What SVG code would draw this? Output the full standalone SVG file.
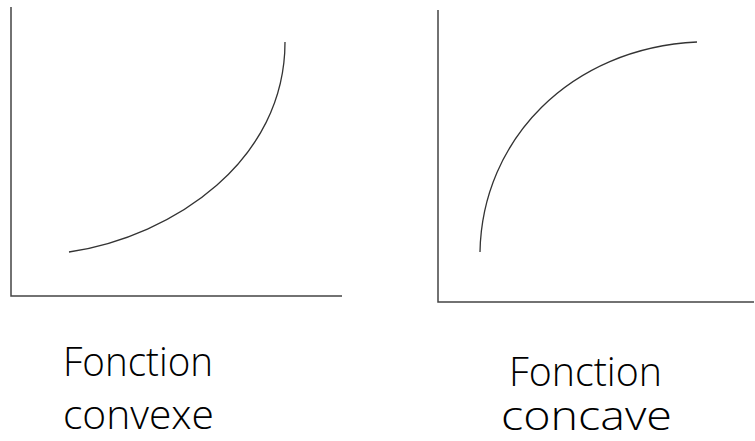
<svg xmlns="http://www.w3.org/2000/svg" width="755" height="441" viewBox="0 0 755 441">
<style>
.axis{fill:none;stroke:#444;stroke-width:1.5}
.curve{fill:none;stroke:#333;stroke-width:1.3}
.lbl{font-family:"Open Sans","Liberation Sans",Arial,sans-serif;font-weight:300;font-size:40px;fill:#000}
</style>
<rect width="755" height="441" fill="#fff"/>
<g id="convexe">
<path class="axis" d="M11,7 V296 H342"/>
<path class="curve" d="M69,252 C175,236 285,160 285,42"/>
<text class="lbl" x="63" y="376" textLength="150" lengthAdjust="spacingAndGlyphs">Fonction</text>
<text class="lbl" x="63" y="429" textLength="151" lengthAdjust="spacingAndGlyphs">convexe</text>
</g>
<g id="concave">
<path class="axis" d="M438,10 V302 H754"/>
<path class="curve" d="M480,252 C482,140 570,48 697,42"/>
<text class="lbl" x="509" y="386" textLength="153" lengthAdjust="spacingAndGlyphs">Fonction</text>
<text class="lbl" x="501" y="430" textLength="171" lengthAdjust="spacingAndGlyphs">concave</text>
</g>
</svg>
